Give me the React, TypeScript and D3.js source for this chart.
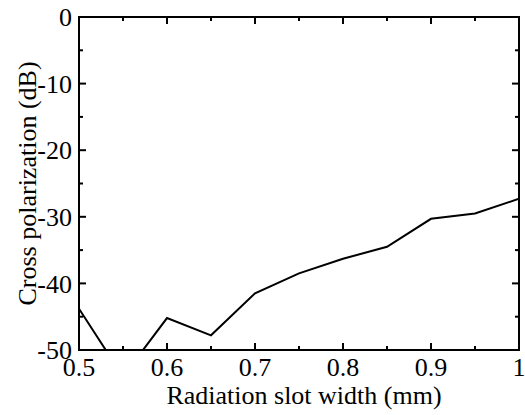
import React from "react";
import * as d3 from "d3";

// slot width (mm) vs cross polarization (dB)
const slotWidth = [0.5, 0.55, 0.6, 0.65, 0.7, 0.75, 0.8, 0.85, 0.9, 0.95, 1.0];
const crossPol = [-43.8, -54.0, -45.2, -47.8, -41.5, -38.5, -36.3, -34.5, -30.3, -29.5, -27.3];

const xTicks = [0.5, 0.6, 0.7, 0.8, 0.9, 1.0];
const xMinor = [0.55, 0.65, 0.75, 0.85, 0.95];
const yTicks = [0, -10, -20, -30, -40, -50];
const yMinor = [-5, -15, -25, -35, -45];

const W = 525;
const H = 415;
const margin = { top: 17, right: 6, bottom: 65, left: 79 };

export default function App() {
    const x = d3.scaleLinear()
        .domain([0.5, 1.0])
        .range([margin.left, W - margin.right]);

    const y = d3.scaleLinear()
        .domain([-50, 0])
        .range([H - margin.bottom, margin.top]);

    const line = d3.line<number>()
        .x((d, i) => x(slotWidth[i]))
        .y(d => y(d));

    const x0 = margin.left, x1 = W - margin.right;
    const y0 = H - margin.bottom, y1 = margin.top;
    const major = 7, minor = 4;

    return (
        <svg width={W} height={H} style={{ position: "absolute", left: 0, top: 0 }}>
            <defs>
                <clipPath id="plot">
                    <rect x={x0} y={y1} width={x1 - x0} height={y0 - y1} />
                </clipPath>
            </defs>
            <rect width={W} height={H} fill="#fff" />

            <path d={line(crossPol) || ""} fill="none" stroke="#000" strokeWidth={2}
                clipPath="url(#plot)" />

            <g stroke="#000" strokeWidth={2}>
                {xTicks.map(t => (
                    <g key={"xt" + t}>
                        <line x1={x(t)} x2={x(t)} y1={y0} y2={y0 - major} />
                        <line x1={x(t)} x2={x(t)} y1={y1} y2={y1 + major} />
                    </g>
                ))}
                {xMinor.map(t => (
                    <g key={"xm" + t}>
                        <line x1={x(t)} x2={x(t)} y1={y0} y2={y0 - minor} />
                        <line x1={x(t)} x2={x(t)} y1={y1} y2={y1 + minor} />
                    </g>
                ))}
                {yTicks.map(t => (
                    <g key={"yt" + t}>
                        <line x1={x0} x2={x0 + major} y1={y(t)} y2={y(t)} />
                        <line x1={x1} x2={x1 - major} y1={y(t)} y2={y(t)} />
                    </g>
                ))}
                {yMinor.map(t => (
                    <g key={"ym" + t}>
                        <line x1={x0} x2={x0 + minor} y1={y(t)} y2={y(t)} />
                        <line x1={x1} x2={x1 - minor} y1={y(t)} y2={y(t)} />
                    </g>
                ))}
                <rect x={x0} y={y1} width={x1 - x0} height={y0 - y1} fill="none" />
            </g>

            <g style={{ fontFamily: "Liberation Serif" }} fontSize={26} fill="#000">
                {xTicks.map(t => (
                    <text key={"xl" + t} x={x(t)} y={y0 + 26} textAnchor="middle">
                        {t === 1 ? "1" : d3.format(".1f")(t)}
                    </text>
                ))}
                {yTicks.map(t => (
                    <text key={"yl" + t} x={x0 - 7} y={y(t)} dy="0.35em" textAnchor="end">
                        {String(t)}
                    </text>
                ))}
                <text x={(x0 + x1) / 2 + 5} y={404} textAnchor="middle">
                    Radiation slot width (mm)
                </text>
                <text transform={`translate(36,${(y0 + y1) / 2}) rotate(-90)`} textAnchor="middle">
                    Cross polarization (dB)
                </text>
            </g>
        </svg>
    );
}
